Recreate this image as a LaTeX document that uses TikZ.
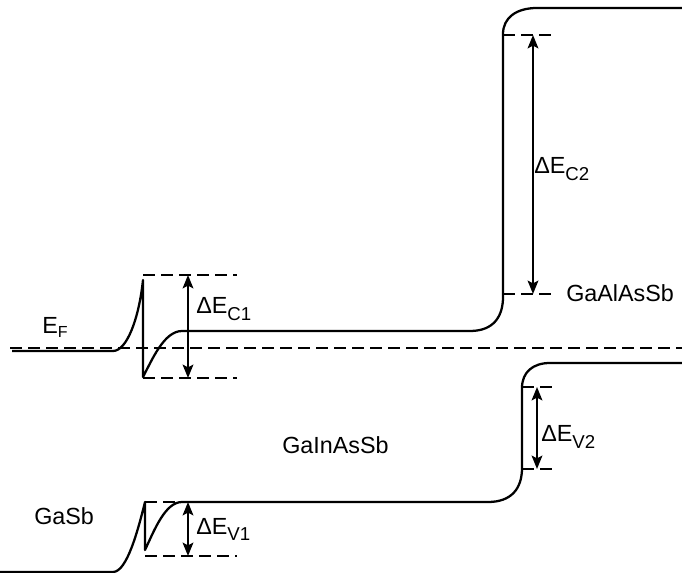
\documentclass[tikz,border=0pt]{standalone}
\usepackage{fontspec}
\setmainfont{Liberation Sans}
\usetikzlibrary{arrows.meta}
\newcommand{\lowidx}[1]{\raisebox{-5pt}{\fontsize{14}{14}\selectfont #1}}
\tikzset{
  band/.style={line width=1.7pt, line join=round},
  level/.style={line width=1.6pt, dash pattern=on 9pt off 4.5pt},
  offset/.style={line width=1.5pt, {Stealth[length=10pt,width=8pt,inset=2pt]}-{Stealth[length=10pt,width=8pt,inset=2pt]}},
  lab/.style={anchor=base west, inner sep=0pt, font=\fontsize{17.5}{17.5}\selectfont}
}
\begin{document}
\begin{tikzpicture}[x=0.75pt,y=-0.75pt]
\useasboundingbox (0,0) rectangle (682,573);
% Fermi level
\draw[level] (10,348) -- (682,348);
% conduction band
\draw[band] (12,351) -- (113,351) .. controls (127,351) and (139,318) .. (143,280) -- (143,377)
  .. controls (152,360) and (164,331) .. (182,331) -- (470,331)
  .. controls (494,331) and (503,316) .. (503,297) -- (503,34)
  .. controls (503,18) and (516,8) .. (537,8) -- (682,8);
% valence band
\draw[band] (0,572) -- (113,572) .. controls (127,572) and (138,530) .. (145,502) -- (145,550)
  .. controls (154,531) and (165,502) .. (182,502) -- (488,502)
  .. controls (511,502) and (522,489) .. (522,468) -- (522,388)
  .. controls (522,372) and (533,363) .. (550,363) -- (682,363);
% offset reference levels
\draw[level] (143,275) -- (237,275);
\draw[level] (143,378) -- (237,378);
\draw[level] (145,502) -- (182,502);
\draw[level] (145,556) -- (237,556);
\draw[level] (503,35) -- (557,35);
\draw[level] (503,294) -- (557,294);
\draw[level] (522,387) -- (556,387);
\draw[level] (522,469) -- (556,469);
% arrow end points
\coordinate (c1t) at (188,275);
\coordinate (c1b) at (188,378);
\coordinate (v1t) at (188,502);
\coordinate (v1b) at (188,556);
\coordinate (c2t) at (533,35);
\coordinate (c2b) at (533,294);
\coordinate (v2t) at (537,387);
\coordinate (v2b) at (537,469);
\draw[offset] (c1t) -- (c1b);
\draw[offset] (v1t) -- (v1b);
\draw[offset] (c2t) -- (c2b);
\draw[offset] (v2t) -- (v2b);
% labels
\node[lab] (ef) at (42,334) {E\raisebox{-2.5pt}{\fontsize{12}{12}\selectfont F}};
\node[lab] (dc1) at (196,314) {ΔE\lowidx{C1}};
\node[lab] (dv1) at (196,534) {ΔE\lowidx{V1}};
\node[lab] (dc2) at (534,174) {ΔE\lowidx{C2}};
\node[lab] (dv2) at (541,442) {ΔE\lowidx{V2}};
\node[lab] (gaalassb) at (566,302) {GaAlAsSb};
\node[lab] (gainassb) at (282,454) {GaInAsSb};
\node[lab] (gasb) at (34,524) {GaSb};
\end{tikzpicture}
\end{document}
